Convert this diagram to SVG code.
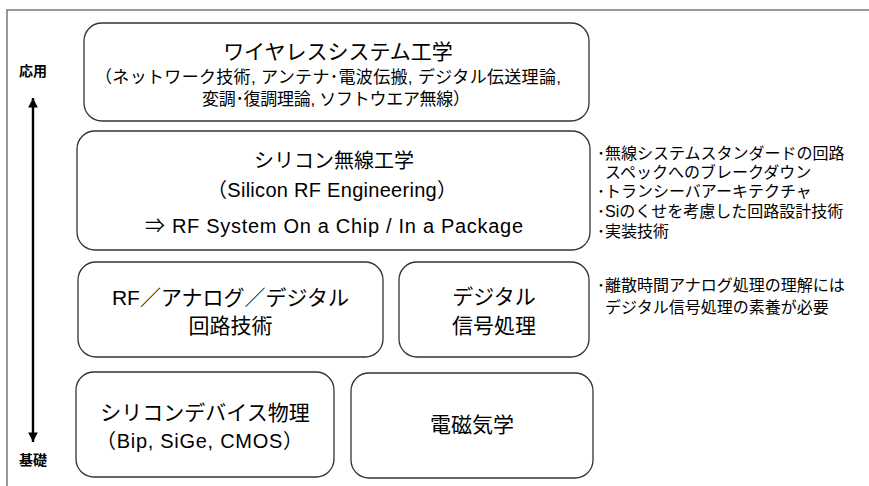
<svg xmlns="http://www.w3.org/2000/svg" width="869" height="486" viewBox="0 0 869 486">
<style>
.box{fill:#fff;stroke:#333;stroke-width:1.3}
text{font-family:"Liberation Sans","Noto Sans CJK JP",sans-serif;fill:#000}
.t20{font-size:20px;text-anchor:middle}
.t21{font-size:21px;text-anchor:middle}
.t17{font-size:17px}
.lat{font-size:20px}
.side{font-size:16px}
.axis{font-size:14px;font-weight:bold;text-anchor:middle}
</style>
<defs>
<marker id="ah" viewBox="0 0 10 10" refX="10" refY="5" markerWidth="4" markerHeight="4.5" orient="auto-start-reverse" markerUnits="strokeWidth">
<path d="M0,0 L10,5 L0,10 z" fill="#000"/>
</marker>
</defs>
<rect width="869" height="486" fill="#fff"/>
<polyline points="7,486 7,10 869,10" fill="none" stroke="#777" stroke-width="1.5"/>
<g id="connectors">
<line x1="33" y1="98" x2="33" y2="442" stroke="#000" stroke-width="2.4" marker-start="url(#ah)" marker-end="url(#ah)"/>
</g>
<g id="axis-labels">
<text class="axis" x="33" y="76">応用</text>
<text class="axis" x="33" y="465">基礎</text>
</g>
<g id="wireless">
<rect class="box" x="84" y="23" width="505" height="98" rx="18"/>
<text class="t21" x="338" y="59">ワイヤレスシステム工学</text>
<text class="t17" x="95" y="83" textLength="466" lengthAdjust="spacing">（ネットワーク技術, アンテナ･電波伝搬, デジタル伝送理論,</text>
<text class="t17" x="202" y="105" textLength="268" lengthAdjust="spacing">変調･復調理論, ソフトウエア無線）</text>
</g>
<g id="silicon-rf">
<rect class="box" x="77" y="131" width="513" height="119" rx="18"/>
<text class="t20" x="334" y="168">シリコン無線工学</text>
<text class="lat" x="207" y="197" textLength="250" lengthAdjust="spacing">（Silicon RF Engineering）</text>
<text class="lat" x="145" y="233" textLength="378" lengthAdjust="spacing">⇒ RF System On a Chip / In a Package</text>
</g>
<g id="circuit">
<rect class="box" x="78" y="262" width="305" height="95" rx="18"/>
<text class="t21" x="230.5" y="305">RF／アナログ／デジタル</text>
<text class="t21" x="230.5" y="333">回路技術</text>
</g>
<g id="dsp">
<rect class="box" x="399" y="262" width="190" height="95" rx="18"/>
<text class="t21" x="494" y="304">デジタル</text>
<text class="t21" x="494" y="333">信号処理</text>
</g>
<g id="device">
<rect class="box" x="76" y="372" width="258" height="105" rx="18"/>
<text class="t21" x="205" y="420">シリコンデバイス物理</text>
<text class="lat" x="96" y="448" textLength="207" lengthAdjust="spacing">（Bip, SiGe, CMOS）</text>
</g>
<g id="em">
<rect class="box" x="351" y="373" width="242" height="105" rx="18"/>
<text class="t21" x="472" y="432">電磁気学</text>
</g>
<g id="notes-rf">
<text class="side" x="597" y="159">･無線システムスタンダードの回路</text>
<text class="side" x="605" y="178">スペックへのブレークダウン</text>
<text class="side" x="597" y="197">･トランシーバアーキテクチャ</text>
<text class="side" x="597" y="217">･Siのくせを考慮した回路設計技術</text>
<text class="side" x="597" y="237">･実装技術</text>
</g>
<g id="notes-dsp">
<text class="side" x="597" y="291">･離散時間アナログ処理の理解には</text>
<text class="side" x="605" y="313">デジタル信号処理の素養が必要</text>
</g>
</svg>
